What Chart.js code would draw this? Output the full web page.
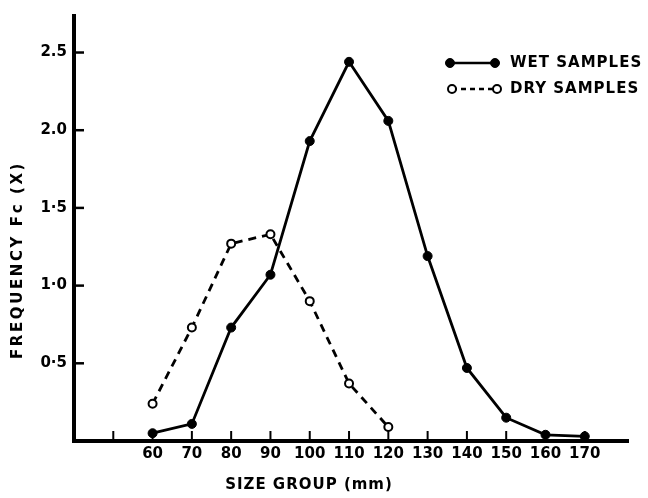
<!DOCTYPE html>
<html>
<head>
<meta charset="utf-8">
<script src="https://cdn.jsdelivr.net/npm/chart.js@4"></script>
<style>
  html, body { margin: 0; padding: 0; background: #fff; }
  canvas { display: block; }
</style>
</head>
<body>
<canvas id="chart" width="648" height="498"></canvas>
<script>
// values
const sizeGroups = [60, 70, 80, 90, 100, 110, 120, 130, 140, 150, 160, 170];
const wetSamples = [0.05, 0.11, 0.73, 1.07, 1.93, 2.44, 2.06, 1.19, 0.47, 0.15, 0.04, 0.03];
const drySizeGroups = [60, 70, 80, 90, 100, 110, 120];
const drySamples = [0.24, 0.73, 1.27, 1.33, 0.90, 0.37, 0.09];

const xTickValues = [50, 60, 70, 80, 90, 100, 110, 120, 130, 140, 150, 160, 170];
const xTickLabels = ['', '60', '70', '80', '90', '100', '110', '120', '130', '140', '150', '160', '170'];
const yTickValues = [0.5, 1.0, 1.5, 2.0, 2.5];
const yTickLabels = ['0·5', '1·0', '1·5', '2.0', '2.5'];

const FONT = "bold 15px 'DejaVu Sans'";

function spacedText(ctx, text, x, y, spacing, align) {
    ctx.save();
    ctx.font = FONT;
    ctx.fillStyle = '#000';
    ctx.textBaseline = 'middle';
    ctx.letterSpacing = spacing + 'px';
    const w = ctx.measureText(text).width;
    ctx.textAlign = 'left';
    let sx = x;
    if (align === 'center') sx = x - w / 2;
    ctx.fillText(text, sx, y);
    ctx.restore();
}

// inner tick marks, axis titles and the legend box
const paperPlugin = {
    id: 'paper',
    afterDraw(chart) {
        const ctx = chart.ctx;
        const area = chart.chartArea;
        const xs = chart.scales.x, ys = chart.scales.y;
        ctx.save();
        ctx.strokeStyle = '#000';
        ctx.lineWidth = 2.5;
        yTickValues.forEach(v => {
            const py = ys.getPixelForValue(v);
            ctx.beginPath();
            ctx.moveTo(area.left, py);
            ctx.lineTo(area.left + 10, py);
            ctx.stroke();
        });
        ctx.lineWidth = 2;
        xTickValues.forEach(v => {
            const px = xs.getPixelForValue(v);
            ctx.beginPath();
            ctx.moveTo(px, area.bottom);
            ctx.lineTo(px, area.bottom - 10);
            ctx.stroke();
        });
        ctx.restore();

        // axis titles
        spacedText(ctx, 'SIZE GROUP (mm)', 309, 485, 1, 'center');
        ctx.save();
        ctx.translate(18, 260);
        ctx.rotate(-Math.PI / 2);
        spacedText(ctx, 'FREQUENCY Fc (X)', 0, 0, 2.6, 'center');
        ctx.restore();

        // legend
        const rows = [
            { ds: chart.data.datasets[0], y: 63, x1: 450, x2: 495, dash: [] },
            { ds: chart.data.datasets[1], y: 89, x1: 452, x2: 497, dash: [5, 4] }
        ];
        rows.forEach(r => {
            ctx.save();
            ctx.strokeStyle = '#000';
            ctx.lineWidth = 2.5;
            ctx.setLineDash(r.dash);
            ctx.beginPath();
            ctx.moveTo(r.x1, r.y);
            ctx.lineTo(r.x2, r.y);
            ctx.stroke();
            ctx.setLineDash([]);
            [r.x1, r.x2].forEach(px => {
                ctx.beginPath();
                ctx.arc(px, r.y, r.ds.pointRadius, 0, Math.PI * 2);
                ctx.fillStyle = r.ds.pointBackgroundColor;
                ctx.fill();
                ctx.lineWidth = r.ds.pointBorderWidth;
                ctx.stroke();
            });
            ctx.restore();
            spacedText(ctx, r.ds.label, 510, r.y, 1, 'left');
        });
    }
};

Chart.defaults.font.family = "'DejaVu Sans'";
Chart.defaults.font.weight = 'bold';
Chart.defaults.font.size = 15;
Chart.defaults.color = '#000';

new Chart(document.getElementById('chart'), {
    type: 'line',
    data: {
        datasets: [
            {
                label: 'WET SAMPLES',
                data: sizeGroups.map((s, i) => ({ x: s, y: wetSamples[i] })),
                borderColor: '#000',
                borderWidth: 2.8,
                pointRadius: 4.5,
                pointBackgroundColor: '#000',
                pointBorderColor: '#000',
                pointBorderWidth: 1,
                tension: 0
            },
            {
                label: 'DRY SAMPLES',
                data: drySizeGroups.map((s, i) => ({ x: s, y: drySamples[i] })),
                borderColor: '#000',
                borderWidth: 2.8,
                borderDash: [8, 6],
                pointRadius: 4,
                pointBackgroundColor: '#fff',
                pointBorderColor: '#000',
                pointBorderWidth: 2,
                tension: 0
            }
        ]
    },
    options: {
        responsive: false,
        devicePixelRatio: 1,
        animation: false,
        layout: { padding: { top: 6, right: 20, left: 0, bottom: 0 } },
        plugins: {
            legend: { display: false },
            tooltip: { enabled: false }
        },
        scales: {
            x: {
                type: 'linear',
                min: 40,
                max: 181,
                afterBuildTicks: (scale) => { scale.ticks = xTickValues.map(v => ({ value: v })); },
                afterFit: (scale) => { scale.height = 57; },
                grid: { display: false, drawTicks: false },
                border: { display: true, color: '#000', width: 4 },
                ticks: {
                    padding: 4,
                    maxRotation: 0,
                    autoSkip: false,
                    callback: (v) => {
                        const i = xTickValues.indexOf(v);
                        return i >= 0 ? xTickLabels[i] : '';
                    }
                }
            },
            y: {
                min: 0,
                max: 2.735,
                afterBuildTicks: (scale) => { scale.ticks = yTickValues.map(v => ({ value: v })); },
                afterFit: (scale) => { scale.width = 74; },
                grid: { display: false, drawTicks: false },
                border: { display: true, color: '#000', width: 4 },
                ticks: {
                    padding: 7,
                    autoSkip: false,
                    callback: (v) => {
                        const i = yTickValues.indexOf(v);
                        return i >= 0 ? yTickLabels[i] : '';
                    }
                }
            }
        }
    },
    plugins: [paperPlugin]
});
</script>
</body>
</html>
